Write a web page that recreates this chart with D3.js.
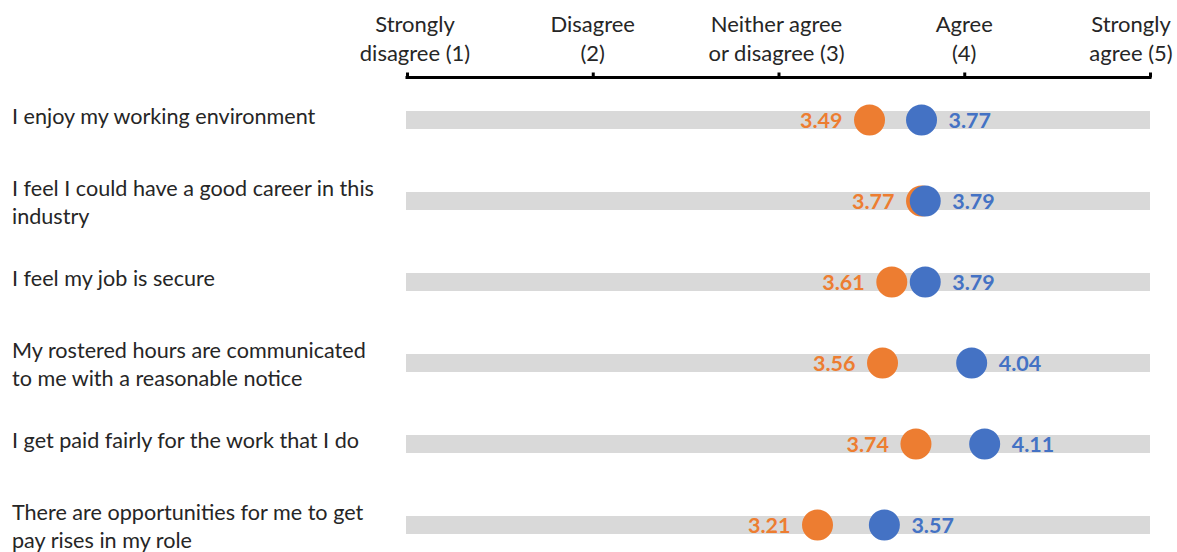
<!DOCTYPE html>
<html>
<head>
<meta charset="utf-8">
<script src="https://cdn.jsdelivr.net/npm/d3@7"></script>
<style>
  html, body { margin: 0; padding: 0; background: #fff; }
  svg { display: block; }
  text { font-family: Lato, "Open Sans", sans-serif; }
</style>
</head>
<body>
<svg id="chart" width="1177" height="552"></svg>
<script>
const categories = [
  ["I enjoy my working environment"],
  ["I feel I could have a good career in this", "industry"],
  ["I feel my job is secure"],
  ["My rostered hours are communicated", "to me with a reasonable notice"],
  ["I get paid fairly for the work that I do"],
  ["There are opportunities for me to get", "pay rises in my role"]
];
const orangeValues = [3.49, 3.77, 3.61, 3.56, 3.74, 3.21];
const blueValues   = [3.77, 3.79, 3.79, 4.04, 4.11, 3.57];
const tickValues = [1, 2, 3, 4, 5];
const tickLabels = [
  ["Strongly", "disagree (1)"],
  ["Disagree", "(2)"],
  ["Neither agree", "or disagree (3)"],
  ["Agree", "(4)"],
  ["Strongly", "agree (5)"]
];

const svg = d3.select("#chart");
const x = d3.scaleLinear().domain([1, 5]).range([407, 1150]);
const y = d3.scaleBand().domain(d3.range(categories.length)).range([79.5, 565.5]).paddingInner(0);
const cy = i => y(i) + y.bandwidth() / 2;

const orange = "#ED7D31", blue = "#4472C4", textColor = "#262626";

// Axis (ticks pointing up)
const axisG = svg.append("g").attr("transform", "translate(0,77.5)");
axisG.call(d3.axisTop(x).tickValues(tickValues).tickSize(5).tickFormat(""));
axisG.select(".domain").attr("d", `M${x(1)},1.5V0H${x(5)}V1.5`).attr("stroke", "#000").attr("stroke-width", 3);
axisG.selectAll(".tick line").attr("stroke", "#000").attr("stroke-width", 3);

// Header labels
const headerShift = [8, 0, -2, 0, -19];
tickValues.forEach((v, i) => {
  const t = svg.append("text")
    .attr("text-anchor", "middle")
    .attr("fill", textColor)
    .attr("font-size", 22)
    .attr("x", x(v) + headerShift[i]);
  tickLabels[i].forEach((line, j) => {
    t.append("tspan").attr("x", x(v) + headerShift[i]).attr("y", 32 + j * 28.5).text(line);
  });
});

// Rows
categories.forEach((lines, i) => {
  const c = cy(i);
  svg.append("rect")
    .attr("x", x(1) - 1).attr("width", x(5) - x(1) + 1)
    .attr("y", c - 9).attr("height", 18)
    .attr("fill", "#D9D9D9");

  const t = svg.append("text").attr("fill", textColor).attr("font-size", 21.6);
  const n = lines.length;
  lines.forEach((line, j) => {
    const yy = n === 1 ? c + 4 : c - 5 + j * 28;
    t.append("tspan").attr("x", 12).attr("y", yy).text(line);
  });
});

// Orange points & labels
svg.selectAll("circle.orange").data(orangeValues).join("circle")
  .attr("class", "orange")
  .attr("cx", d => x(d)).attr("cy", (d, i) => cy(i)).attr("r", 15.5)
  .attr("fill", orange);
svg.selectAll("text.olab").data(orangeValues).join("text")
  .attr("class", "olab")
  .attr("x", d => x(d) - 27).attr("y", (d, i) => cy(i) + 7.5)
  .attr("text-anchor", "end").attr("font-weight", "bold").attr("font-size", 21.5)
  .attr("fill", orange).text(d => d.toFixed(2));

// Blue points & labels
svg.selectAll("circle.blue").data(blueValues).join("circle")
  .attr("class", "blue")
  .attr("cx", d => x(d)).attr("cy", (d, i) => cy(i)).attr("r", 15.5)
  .attr("fill", blue);
svg.selectAll("text.blab").data(blueValues).join("text")
  .attr("class", "blab")
  .attr("x", d => x(d) + 27).attr("y", (d, i) => cy(i) + 7.5)
  .attr("text-anchor", "start").attr("font-weight", "bold").attr("font-size", 21.5)
  .attr("fill", blue).text(d => d.toFixed(2));
</script>
</body>
</html>
